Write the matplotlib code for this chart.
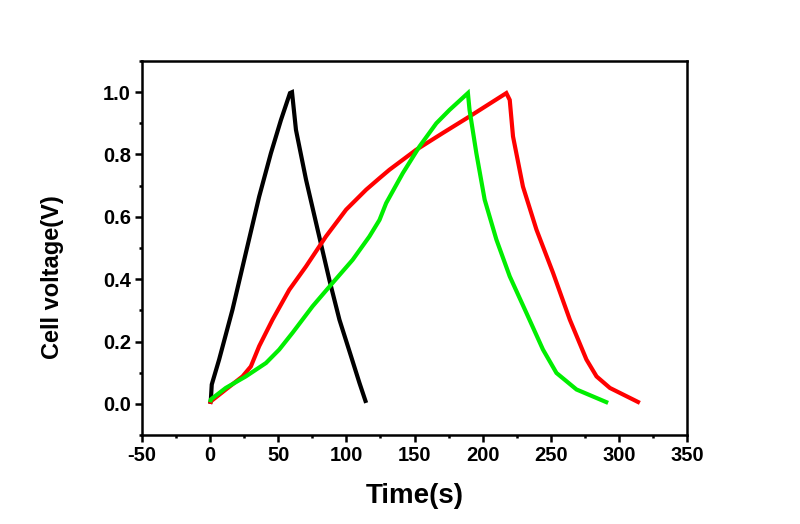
import matplotlib
matplotlib.use('Agg')
import matplotlib.pyplot as plt
from matplotlib.ticker import MultipleLocator

plt.rcParams['font.family'] = ['Liberation Sans', 'DejaVu Sans']
plt.rcParams['font.weight'] = 'bold'
plt.rcParams['axes.unicode_minus'] = False

# Charge/discharge curves
black_t = [0, 0.5, 1.2, 6.6, 16.4, 26.2, 36, 44.6, 52, 58.6, 60.1,
           63, 70.4, 78.9, 87.5, 94.9, 103.4, 109.6, 114.5]
black_v = [0.0, 0.01, 0.062, 0.142, 0.302, 0.484, 0.665, 0.804, 0.911, 0.997, 1.0,
           0.879, 0.719, 0.559, 0.398, 0.27, 0.153, 0.067, 0.003]

red_t = [0, 0.5, 11.5, 23.8, 29.9, 36, 45.8, 58.1, 70.4, 85, 99.8, 114.5, 124.3,
         131.6, 151.2, 170.8, 190.4, 217.4, 219.9, 222.3, 229.6, 239.5, 251.7,
         264, 276.2, 283.6, 293.4, 315.4]
red_v = [0.0, 0.008, 0.046, 0.088, 0.12, 0.185, 0.27, 0.366, 0.441, 0.537, 0.623, 0.687, 0.724,
         0.751, 0.815, 0.869, 0.922, 0.997, 0.975, 0.858, 0.697, 0.559, 0.42,
         0.27, 0.142, 0.088, 0.051, 0.003]

green_t = [0, 0.5, 11.5, 26.2, 41, 50.7, 60.5, 75.2, 89.9, 104.6, 116.9, 124.3,
           129.2, 141.4, 153.7, 166, 175.7, 189.2, 190.4, 195.4, 201.5, 210.1,
           219.9, 232.1, 244.3, 254.2, 268.9, 292.1]
green_v = [0.005, 0.014, 0.051, 0.088, 0.131, 0.174, 0.228, 0.313, 0.388, 0.462, 0.537, 0.59,
           0.644, 0.74, 0.826, 0.9, 0.943, 0.997, 0.943, 0.804, 0.655, 0.527,
           0.409, 0.292, 0.174, 0.099, 0.046, 0.003]

fig = plt.figure(figsize=(8, 5.24), dpi=100)
ax = fig.add_axes([142 / 800, 1 - 435 / 524, 545 / 800, 374 / 524])

for t, v, c in [(black_t, black_v, 'black'), (red_t, red_v, '#ff0000'),
                (green_t, green_v, '#00ee00')]:
    ax.plot(t, v, color=c, lw=3.0, solid_joinstyle='miter', solid_capstyle='butt')

ax.set_xlim(-50, 350)
ax.set_ylim(-0.1, 1.1)
ax.xaxis.set_major_locator(MultipleLocator(50))
ax.xaxis.set_minor_locator(MultipleLocator(25))
ax.yaxis.set_minor_locator(MultipleLocator(0.1))
ax.set_yticks([0.0, 0.2, 0.4, 0.6, 0.8, 1.0])
ax.set_yticklabels(['0.0', '0.2', '0.4', '0.6', '0.8', '1.0'])

for s in ax.spines.values():
    s.set_linewidth(1.8)
ax.tick_params(which='major', direction='out', length=5, width=1.8, labelsize=14.5, pad=3)
ax.tick_params(which='minor', direction='out', length=2.5, width=1.8)
ax.tick_params(top=False, right=False)

ax.set_xlabel('Time(s)', fontsize=20, fontweight='bold', va='center')
ax.xaxis.set_label_coords(0.5, -0.163)
ax.set_ylabel('Cell voltage(V)', fontsize=17, fontweight='bold', va='center')
ax.yaxis.set_label_coords(-0.165, 0.422)

fig.savefig('out.png', dpi=100)
